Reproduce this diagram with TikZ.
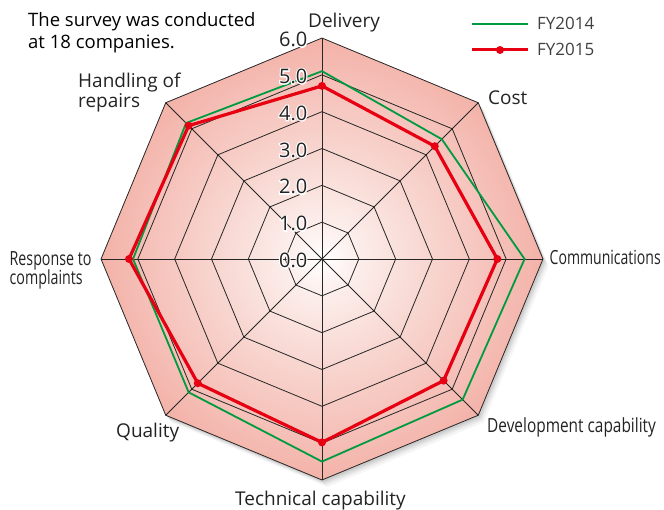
\documentclass[tikz,border=0pt]{standalone}
\usepackage{fontspec}
\setmainfont{Open Sans}
\newfontface\halofont[FakeBold=12]{Open Sans}
\usetikzlibrary{calc}
\definecolor{gline}{RGB}{0,155,64}
\definecolor{rline}{RGB}{230,0,18}
\definecolor{txt}{RGB}{35,35,35}
\definecolor{pA}{RGB}{252,238,235}
\definecolor{pB}{RGB}{248,214,208}
\definecolor{pC}{RGB}{245,192,184}
\definecolor{pD}{RGB}{243,178,168}
\pgfdeclareradialshading{radarshade}{\pgfpoint{0bp}{0bp}}{color(0bp)=(white); color(4bp)=(pA); color(12bp)=(pB); color(20bp)=(pC); color(25bp)=(pD); color(50bp)=(pD)}
\def\u{36.83}
\newcommand{\fs}[1]{\fontsize{#1}{#1}\selectfont}
\newcommand{\halotext}[1]{\leavevmode\rlap{\color{white}\halofont #1}#1}
\begin{document}
\begin{tikzpicture}[x=1pt,y=1pt,
  text=txt,
  grid/.style={draw=black!85, line width=0.8pt, line join=miter},
  gpoly/.style={draw=gline, line width=1.8pt, line join=miter},
  rpoly/.style={draw=rline, line width=3.2pt, line join=round},
  rdot/.style={fill=rline, draw=none},
  lab/.style={anchor=base west, inner sep=0pt, font=\fs{19}},
  cond/.style={anchor=base west, inner sep=0pt, font=\fs{19.5}},
  scal/.style={anchor=east, inner sep=0pt, font=\fs{20}},
  leg/.style={anchor=base west, inner sep=0pt, font=\fs{17}, text=black!75}]
\useasboundingbox (0,0) rectangle (664,-510);
\begin{scope}[shift={(322,-259)}]
  % soft shadow
  \foreach \d/\o in {7/0.04,5/0.05,3.5/0.06,2/0.07}
    \fill[black,opacity=\o,shift={(\d*0.8,-\d)}] (90:221) \foreach \a in {45,0,-45,-90,-135,-180,-225}{-- (\a:221)} -- cycle;
  % background
  \shade[shading=radarshade] (90:221) \foreach \a in {45,0,-45,-90,-135,-180,-225}{-- (\a:221)} -- cycle;
  % rings
  \foreach \r in {1,...,6}
    \draw[grid] ({90}:{\r*\u}) \foreach \a in {45,0,-45,-90,-135,-180,-225}{-- ({\a}:{\r*\u})} -- cycle;
  % spokes
  \foreach \a in {90,45,0,-45,-90,-135,-180,-225}
    \draw[grid] (0,0) -- ({\a}:{6*\u});
  % FY2014
  \draw[gpoly] (90:{5.1*\u}) -- (45:{4.6*\u}) -- (0:{5.5*\u}) -- (-45:{5.4*\u}) -- (-90:{5.5*\u}) -- (-135:{5.12*\u}) -- (180:{5.13*\u}) -- (135:{5.22*\u}) -- cycle;
  % FY2015
  \draw[rpoly] (90:{4.7*\u}) -- (45:{4.33*\u}) -- (0:{4.76*\u}) -- (-45:{4.67*\u}) -- (-90:{4.98*\u}) -- (-135:{4.77*\u}) -- (180:{5.24*\u}) -- (135:{5.12*\u}) -- cycle;
  \foreach \a/\v in {90/4.7,45/4.33,0/4.76,-45/4.67,-90/4.98,-135/4.77,180/5.24,135/5.12}
    \fill[rdot] ({\a}:{\v*\u}) circle (4);
  % scale labels with halo
  \foreach \v in {0,...,6}
    \node[scal] (s\v) at (-14.5,{\v*\u-1.5}) {\halotext{\v.0}};
\end{scope}
% axis labels
\node[lab] (lDel) at (308,-28) {Delivery};
\node[lab] (lCost) at (488,-105) {Cost};
\node[cond] (lCom) at (549.5,-265) {\scalebox{0.72}[1]{Communications}};
\node[cond] (lDev) at (487,-432) {\scalebox{0.79}[1]{Development capability}};
\node[lab] (lTec) at (235,-505) {Technical capability};
\node[lab] (lQua) at (116,-437.5) {Quality};
\node[cond] (lRes1) at (9.5,-265.5) {\scalebox{0.73}[1]{Response to}};
\node[cond] (lRes2) at (9.5,-285) {\scalebox{0.73}[1]{complaints}};
\node[lab] (lHan1) at (78,-88) {Handling of};
\node[lab] (lHan2) at (78,-108) {repairs};
% note
\node[lab,font=\fs{18.5},text=black] (n1) at (28,-27) {The survey was conducted};
\node[lab,font=\fs{18.5},text=black] (n2) at (28,-49) {at 18 companies.};
% legend
\coordinate (g1) at (472,-24); \coordinate (g2) at (528,-24);
\coordinate (r1) at (472,-50); \coordinate (r2) at (528,-50); \coordinate (rm) at (500,-50);
\draw[draw=gline, line width=1.8pt] (g1) -- (g2);
\draw[draw=rline, line width=3pt] (r1) -- (r2);
\fill[rdot] (rm) circle (4);
\node[leg] (fy14) at (537,-29.5) {FY2014};
\node[leg] (fy15) at (537,-55.5) {FY2015};
\end{tikzpicture}
\end{document}
